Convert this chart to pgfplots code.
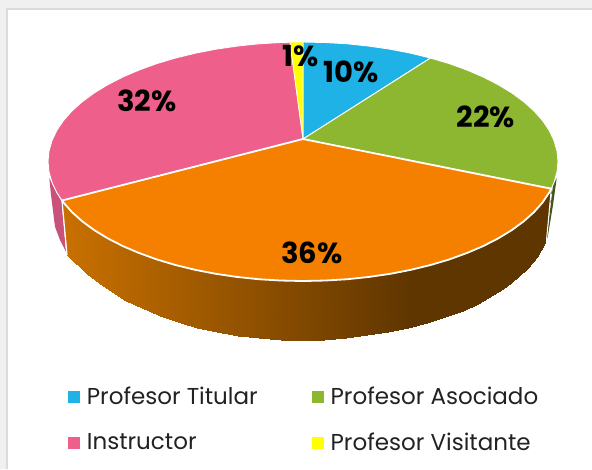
\documentclass[border=0pt]{standalone}
\usepackage{pgfplots}
\pgfplotsset{compat=1.18}
\usepackage{fontspec}
\setmainfont{Poppins}
\definecolor{cblue}{HTML}{1FB2E6}
\definecolor{cgreen}{HTML}{8DB731}
\definecolor{corange}{HTML}{F58000}
\definecolor{cpink}{HTML}{EF5F8B}
\definecolor{cyellow}{HTML}{FFFF00}
\definecolor{cpinkside}{HTML}{C9527C}
\definecolor{cgreenside}{HTML}{3F5A1C}
\definecolor{txt}{HTML}{222222}
\begin{document}
\begin{tikzpicture}
\begin{axis}[
  width=592pt,height=469pt,scale only axis,
  xmin=0,xmax=592,ymin=0,ymax=469,y dir=reverse,
  view={0}{90},hide axis,
  colormap={side}{rgb255(0)=(200,112,0) rgb255(1)=(96,54,0)},
  point meta min=67,point meta max=408,
  legend columns=2,
  legend cell align=left,
  legend style={draw=none,fill=none,at={(axis cs:68,385)},anchor=north west,
    font=\fontsize{23}{27}\selectfont\color{txt},
    inner sep=0pt,outer sep=0pt,
    /tikz/every even column/.style={column sep=52pt},
    row sep=23pt},
  legend image code/.code={\path (0pt,0pt) -- (16pt,0pt);\fill[#1,draw=none] (0pt,-6pt) rectangle (12pt,6pt);},
]
% background
\addplot[fill=black!6,draw=none,forget plot] coordinates {(0,0)(592,0)(592,469)(0,469)} --cycle;
\addplot[fill=black!14,draw=none,forget plot] coordinates {(6,8)(592,8)(592,469)(6,469)} --cycle;
\addplot[fill=white,draw=none,forget plot] coordinates {(8,10)(592,10)(592,469)(8,469)} --cycle;
% depth of the pink and green slices
\addplot[fill=cpinkside,draw=none,forget plot] coordinates {(49.3,178)(51,195)(55,226.7)(60,240)(66,251.7)(61.7,201.7)} --cycle;
\addplot[fill=cgreenside,draw=none,forget plot] coordinates {(556.7,178)(553,205)(547.5,238)(546.7,238)(553,185)} --cycle;
% depth of the orange slice
\addplot3[surf,shader=interp,mesh/ordering=y varies,mesh/rows=2,point meta=x,forget plot] table[row sep=\\] {
x y z\\
62 200.5 0\\ 67 255 0\\
82.2 221.25 0\\ 86.7 273.5 0\\
94.1 230 0\\ 98.9 283.3 0\\
107.7 238.3 0\\ 111.6 291.5 0\\
122.7 246 0\\ 126.3 300.5 0\\
139.1 253 0\\ 142.3 307.8 0\\
156.7 259.4 0\\ 159.5 315.7 0\\
175.5 265 0\\ 177.9 322 0\\
195.2 269.8 0\\ 197.1 327.7 0\\
215.8 273.8 0\\ 217.3 332 0\\
237 276.9 0\\ 238 335.5 0\\
258.7 279.2 0\\ 259.3 338 0\\
280.8 280.5 0\\ 280.6 339.6 0\\
303 281 0\\ 302.5 340.5 0\\
325.2 280.5 0\\ 324.2 339.6 0\\
347.3 279.2 0\\ 345.8 338 0\\
369 276.9 0\\ 366.7 335.2 0\\
390.2 273.8 0\\ 387.7 331.5 0\\
410.8 269.8 0\\ 407.7 327.5 0\\
430.5 265 0\\ 427 322.5 0\\
449.3 259.4 0\\ 445.1 317.4 0\\
466.9 253 0\\ 462.6 311 0\\
483.3 246 0\\ 478.2 303.9 0\\
498.3 238.3 0\\ 493.2 295 0\\
511.9 230 0\\ 506 287 0\\
523.8 221.25 0\\ 518.2 277 0\\
534.1 212 0\\ 527.7 268 0\\
542.6 202.4 0\\ 536.5 257 0\\
551.3 188.7 0\\ 545 243 0\\
};
\addplot[white,line width=1.2pt,forget plot] coordinates {(62,200.5)(67,255)};
\addplot[white,line width=1.0pt,forget plot] coordinates {(551.3,188.7)(546.5,240)};
% top faces
\addplot[fill=cblue,draw=white,line width=0.9pt,line join=round] coordinates {
(303,139)(303,42)(325.2,42.5)(347.3,43.8)(369,46.1)(390.2,49.2)(410.8,53.2)(430.5,58)} --cycle;
\addlegendentry{Profesor Titular}
\addplot[fill=cgreen,draw=white,line width=0.9pt,line join=round] coordinates {
(303,139)(430.5,58)(449.3,63.6)(466.9,70)(483.3,77)(498.3,84.7)(511.9,93)(523.8,101.75)(534.1,111)(542.6,120.6)(549.3,130.6)(554.1,140.8)(557,151.1)(558,161.5)(557,171.9)(554.1,182.2)(551.3,188.7)} --cycle;
\addlegendentry{Profesor Asociado}
\addplot[fill=cpink,draw=white,line width=0.9pt,line join=round] coordinates {
(303,139)(62,200.5)(56.7,192.4)(51.9,182.2)(49,171.9)(48,161.5)(49,151.1)(51.9,140.8)(56.7,130.6)(63.4,120.6)(71.9,111)(82.2,101.75)(94.1,93)(107.7,84.7)(122.7,77)(139.1,70)(156.7,63.6)(175.5,58)(195.2,53.2)(215.8,49.2)(237,46.1)(258.7,43.8)(280.8,42.5)(290,42.2)} --cycle;
\addlegendentry{Instructor}
\addplot[fill=cyellow,draw=white,line width=0.6pt,line join=round] coordinates {
(303,139)(290,42.2)(303,42)} --cycle;
\addlegendentry{Profesor Visitante}
\addplot[fill=corange,draw=white,line width=1.8pt,line join=round,forget plot] coordinates {
(303,139)(551.3,188.7)(549.3,192.4)(542.6,202.4)(534.1,212)(523.8,221.25)(511.9,230)(498.3,238.3)(483.3,246)(466.9,253)(449.3,259.4)(430.5,265)(410.8,269.8)(390.2,273.8)(369,276.9)(347.3,279.2)(325.2,280.5)(303,281)(280.8,280.5)(258.7,279.2)(237,276.9)(215.8,273.8)(195.2,269.8)(175.5,265)(156.7,259.4)(139.1,253)(122.7,246)(107.7,238.3)(94.1,230)(82.2,221.25)(71.9,212)(63.4,202.4)(62,200.5)} --cycle;
% labels
\node[font=\fontsize{29}{30}\bfseries\selectfont] at (axis cs:351,72) {10\%};
\node[font=\fontsize{29}{30}\bfseries\selectfont] at (axis cs:486,117) {22\%};
\node[font=\fontsize{29}{30}\bfseries\selectfont] at (axis cs:312,253) {36\%};
\node[font=\fontsize{29}{30}\bfseries\selectfont] at (axis cs:147,101) {32\%};
\node[font=\fontsize{29}{30}\bfseries\selectfont] at (axis cs:301,56) {1\%};
\end{axis}
\end{tikzpicture}
\end{document}
